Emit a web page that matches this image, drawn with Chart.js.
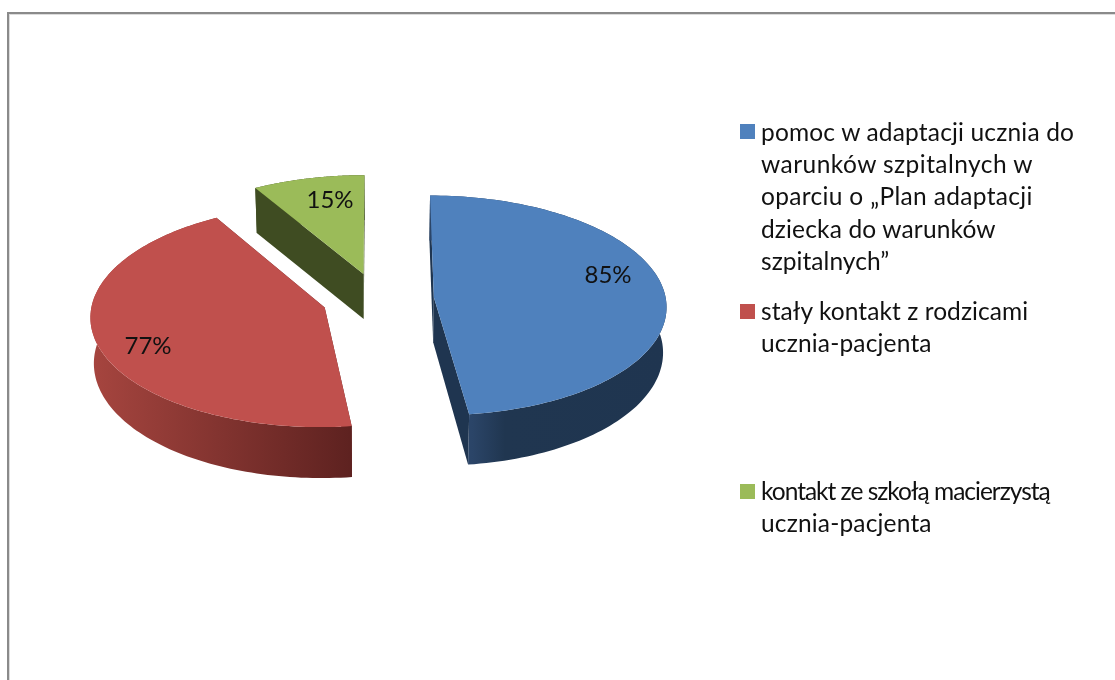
<!DOCTYPE html>
<html lang="pl"><head><meta charset="utf-8">
<script src="https://cdn.jsdelivr.net/npm/chart.js@4"></script>
<style>
html,body{margin:0;padding:0;background:#fff;width:1115px;height:680px;overflow:hidden}
#c{position:absolute;left:0;top:0}
#frame{position:absolute;left:7px;top:12px;width:1108px;height:668px;border-left:2px solid #8a8a8a;border-top:2px solid #8a8a8a;box-shadow:inset 1px 1px 0 #dcdcdc;box-sizing:border-box}
.key{position:absolute;width:15px;height:15px}
.lab{position:absolute;left:761px;font-family:Lato,sans-serif;font-size:24.5px;line-height:32.2px;color:#111;white-space:pre}
.lab span{display:block}
</style></head><body>
<div id="frame"></div>
<canvas id="c" width="1115" height="680"></canvas>
<script>
const categories = [
  ["pomoc w adaptacji ucznia do","warunków szpitalnych w","oparciu o „Plan adaptacji","dziecka do warunków","szpitalnych”"],
  ["stały kontakt z rodzicami","ucznia-pacjenta"],
  ["kontakt ze szkołą macierzystą","ucznia-pacjenta"]
];
const values = [85, 77, 15];
const valueLabels = ["85%", "77%", "15%"];
const topColors = ["#4F81BD", "#C0504D", "#9BBB59"];
const cutColors = ["#1F3550", "#5E2220", "#3F4C22"];
const rimStops = [
  [[472,"#2B4568"],[505,"#203650"],[670,"#1F3550"]],
  [[92,"#A6453F"],[350,"#5E2220"]],
  [[250,"#3F4C22"],[370,"#3F4C22"]]
];
const explode = 56;

// layout constants
const labelXY = [[608,275],[148,346],[330,200]];
const keyTop = [124,304,484];
const textTop = [116,295,475];
const lineTrack = [[.17,.45,.33,.15,.05],[.08,.17],[-1,.17]];
const TILT = 0.472, PERSP = 0.073, BOTTOM_X = 0.988;

function project(arc, nx, ny){
  const w = 1 - PERSP*ny, R = arc.outerRadius;
  return [arc.x + nx*R/w, arc.y + TILT*ny*R/w];
}
function bottom(arc, p){
  const depth = 45 + Math.max(0,p[1]-300)*0.047;
  return [arc.x + (p[0]-arc.x)*BOTTOM_X, p[1]+depth];
}

const pie3d = {
  id:'pie3d',
  beforeDatasetDraw(chart){
    const ctx = chart.ctx, meta = chart.getDatasetMeta(0);
    meta.data.forEach((arc,i)=>{
      const s = arc.startAngle, e = arc.endAngle, mid = (s+e)/2, off = explode/arc.outerRadius;
      const ax = Math.cos(mid)*off, ay = Math.sin(mid)*off;
      const apex = project(arc,ax,ay), rim = [];
      const N = 120;
      for(let k=0;k<=N;k++){
        const a = s+(e-s)*k/N;
        rim.push(project(arc,ax+Math.cos(a),ay+Math.sin(a)));
      }
      const poly = (pts,fill)=>{
        ctx.beginPath(); pts.forEach((p,j)=>j?ctx.lineTo(p[0],p[1]):ctx.moveTo(p[0],p[1]));
        ctx.closePath(); ctx.fillStyle = fill; ctx.fill();
      };
      [rim[0],rim[N]].forEach(p=>poly([apex,p,bottom(arc,p),bottom(arc,apex)],cutColors[i]));
      const x0 = rimStops[i][0][0], x1 = rimStops[i][rimStops[i].length-1][0];
      const g = ctx.createLinearGradient(x0,0,x1,0);
      rimStops[i].forEach(st=>g.addColorStop((st[0]-x0)/(x1-x0),st[1]));
      poly(rim.concat(rim.slice().reverse().map(p=>bottom(arc,p))),g);
      poly([apex].concat(rim),topColors[i]);
    });
    return false;
  },
  afterDatasetsDraw(chart){
    const ctx = chart.ctx;
    ctx.save();
    ctx.font = '24px Lato, sans-serif'; ctx.fillStyle = '#111';
    ctx.textAlign='center'; ctx.textBaseline='middle';
    valueLabels.forEach((t,i)=>ctx.fillText(t,labelXY[i][0],labelXY[i][1]));
    ctx.restore();
  }
};

new Chart(document.getElementById('c'),{
  type:'pie',
  data:{labels:categories.map(l=>l.join(' ')),datasets:[{data:values,backgroundColor:topColors,borderWidth:0,offset:explode}]},
  options:{
    responsive:false,animation:false,
    layout:{padding:{left:118,right:477,top:39,bottom:121}},
    plugins:{legend:{display:false},tooltip:{enabled:false}}
  },
  plugins:[pie3d]
});

categories.forEach((lines,i)=>{
  const k=document.createElement('div');k.className='key';
  k.style.left='740px';k.style.top=keyTop[i]+'px';k.style.background=topColors[i];
  document.body.appendChild(k);
  const d=document.createElement('div');d.className='lab';d.style.top=textTop[i]+'px';
  lines.forEach((t,j)=>{
    const s=document.createElement('span');s.textContent=t;s.style.letterSpacing=lineTrack[i][j]+'px';d.appendChild(s);
  });
  document.body.appendChild(d);
});
</script>
</body></html>
